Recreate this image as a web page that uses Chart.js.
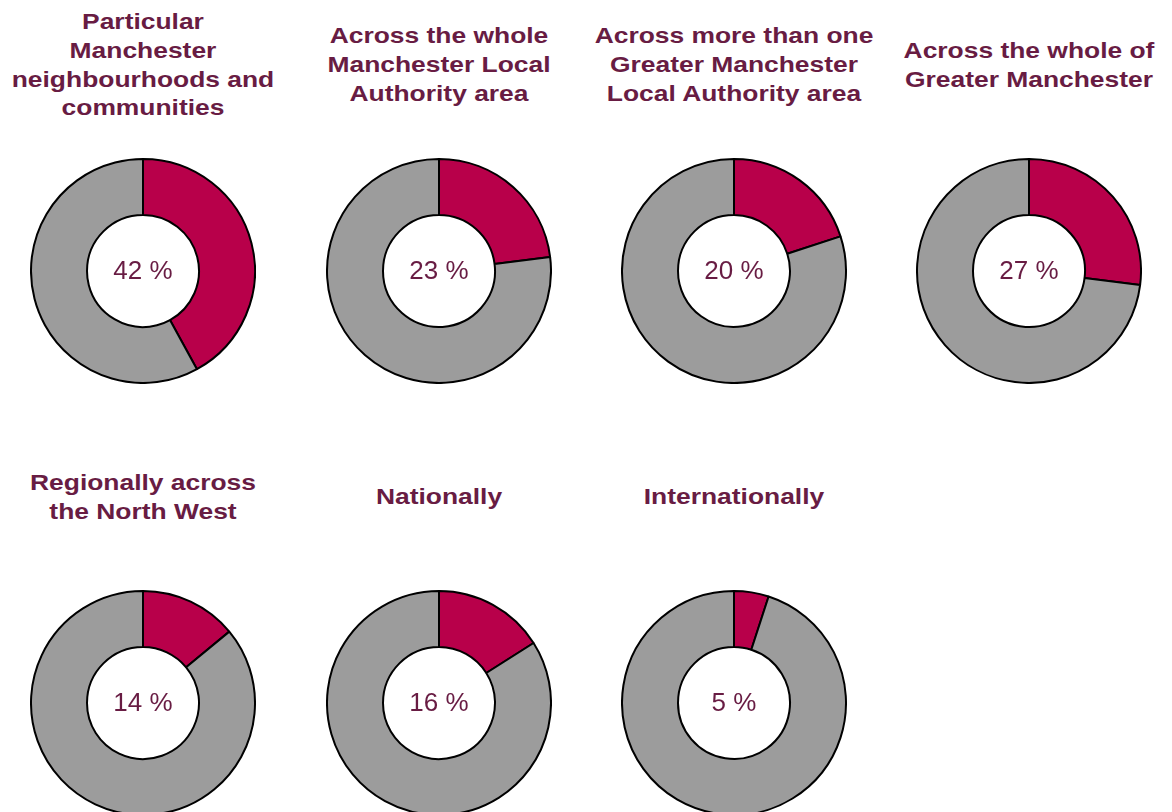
<!DOCTYPE html>
<html>
<head>
<meta charset="utf-8">
<script src="https://cdn.jsdelivr.net/npm/chart.js@4"></script>
<style>
  html, body { margin: 0; padding: 0; background: #fff; overflow: hidden; }
  body { width: 1172px; height: 812px; position: relative; font-family: "Liberation Sans", Arial, sans-serif; }
  .ttl { position: absolute; width: 300px; height: 128px; display: flex; align-items: center; justify-content: center;
         text-align: center; color: #681c43; font-weight: bold; font-size: 22px; line-height: 28.7px;
         transform: scaleX(1.2); transform-origin: center; }
  canvas { position: absolute; }
</style>
</head>
<body>
<script>
// share of respondents working at each geographic level (%)
const titles = [
  ["Particular", "Manchester", "neighbourhoods and", "communities"],
  ["Across the whole", "Manchester Local", "Authority area"],
  ["Across more than one", "Greater Manchester", "Local Authority area"],
  ["Across the whole of", "Greater Manchester"],
  ["Regionally across", "the North West"],
  ["Nationally"],
  ["Internationally"]
];
const values = [42, 23, 20, 27, 14, 16, 5];
const segLabels = ["Yes", "No"];

const colX = [143, 439, 734, 1029];
const rowDonutY = [271, 703];
const rowTitleY = [65.5, 497.5];
const SIZE = 226;

const centerText = {
  id: "centerText",
  afterDraw(chart) {
    const a = chart.chartArea;
    const ctx = chart.ctx;
    ctx.save();
    ctx.font = "26px 'Liberation Sans', Arial, sans-serif";
    ctx.fillStyle = "#681c43";
    ctx.textAlign = "center";
    ctx.textBaseline = "middle";
    ctx.fillText(chart.options.plugins.centerText.text, (a.left + a.right) / 2, (a.top + a.bottom) / 2 + 1);
    ctx.restore();
  }
};

values.forEach((v, i) => {
  const col = i % 4, row = Math.floor(i / 4);
  const t = document.createElement("div");
  t.className = "ttl";
  t.style.left = (colX[col] - 150) + "px";
  t.style.top = (rowTitleY[row] - 64) + "px";
  t.innerHTML = titles[i].join("<br>");
  document.body.appendChild(t);

  const c = document.createElement("canvas");
  c.width = SIZE; c.height = SIZE;
  c.style.width = SIZE + "px"; c.style.height = SIZE + "px";
  c.style.left = (colX[col] - SIZE / 2) + "px";
  c.style.top = (rowDonutY[row] - SIZE / 2) + "px";
  document.body.appendChild(c);

  new Chart(c.getContext("2d"), {
    type: "doughnut",
    data: {
      labels: segLabels,
      datasets: [{
        data: [v, 100 - v],
        backgroundColor: ["#b8004a", "#9c9c9c"],
        borderColor: "#000",
        borderWidth: 2
      }]
    },
    options: {
      responsive: false, animation: false, cutout: "50%",
      layout: { padding: 0 },
      plugins: { legend: { display: false }, tooltip: { enabled: false }, centerText: { text: v + " %" } }
    },
    plugins: [centerText]
  });
});
</script>
</body>
</html>
